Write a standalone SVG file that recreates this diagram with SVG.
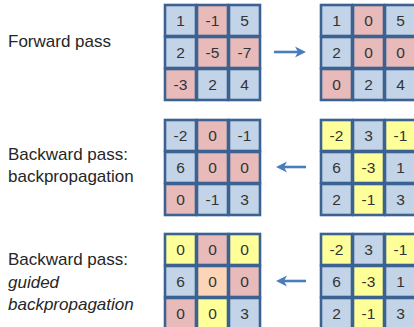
<svg xmlns="http://www.w3.org/2000/svg" width="414" height="327" viewBox="0 0 414 327">
<defs>
<style>
.lbl{font-family:"Liberation Sans",Arial,sans-serif;font-size:17px;fill:#262626}
.num{font-family:"Liberation Sans",Arial,sans-serif;font-size:15.5px;fill:#333;text-anchor:middle}
.c{stroke:#3b6291;stroke-width:2.6}
.b{fill:#c3d4e9}
.r{fill:#e8baba}
.y{fill:#ffff99}
.o{fill:#fcd5b8}
.arr{stroke:#4a7ebb;stroke-width:2.6;fill:none}
.ah{fill:#4a7ebb}
</style>
</defs>
<rect width="414" height="327" fill="#fff"/>
<g id="labels">
<text class="lbl" x="8" y="47">Forward pass</text>
<text class="lbl" x="8" y="160">Backward pass:</text>
<text class="lbl" x="8" y="182">backpropagation</text>
<text class="lbl" x="8" y="265">Backward pass:</text>
<text class="lbl" x="8" y="288" font-style="italic">guided</text>
<text class="lbl" x="8" y="310" font-style="italic">backpropagation</text>
</g>
<g id="g1" transform="translate(165,5)">
<rect class="c b" x="0" y="0" width="31" height="31"/><rect class="c r" x="32" y="0" width="31" height="31"/><rect class="c b" x="64" y="0" width="31" height="31"/>
<rect class="c b" x="0" y="32" width="31" height="31"/><rect class="c r" x="32" y="32" width="31" height="31"/><rect class="c r" x="64" y="32" width="31" height="31"/>
<rect class="c r" x="0" y="64" width="31" height="31"/><rect class="c b" x="32" y="64" width="31" height="31"/><rect class="c b" x="64" y="64" width="31" height="31"/>
<text class="num" x="15.5" y="21">1</text><text class="num" x="47.5" y="21">-1</text><text class="num" x="79.5" y="21">5</text>
<text class="num" x="15.5" y="53">2</text><text class="num" x="47.5" y="53">-5</text><text class="num" x="79.5" y="53">-7</text>
<text class="num" x="15.5" y="85">-3</text><text class="num" x="47.5" y="85">2</text><text class="num" x="79.5" y="85">4</text>
</g>
<g id="g2" transform="translate(321,5)">
<rect class="c b" x="0" y="0" width="31" height="31"/><rect class="c r" x="32" y="0" width="31" height="31"/><rect class="c b" x="64" y="0" width="31" height="31"/>
<rect class="c b" x="0" y="32" width="31" height="31"/><rect class="c r" x="32" y="32" width="31" height="31"/><rect class="c r" x="64" y="32" width="31" height="31"/>
<rect class="c r" x="0" y="64" width="31" height="31"/><rect class="c b" x="32" y="64" width="31" height="31"/><rect class="c b" x="64" y="64" width="31" height="31"/>
<text class="num" x="15.5" y="21">1</text><text class="num" x="47.5" y="21">0</text><text class="num" x="79.5" y="21">5</text>
<text class="num" x="15.5" y="53">2</text><text class="num" x="47.5" y="53">0</text><text class="num" x="79.5" y="53">0</text>
<text class="num" x="15.5" y="85">0</text><text class="num" x="47.5" y="85">2</text><text class="num" x="79.5" y="85">4</text>
</g>
<g id="g3" transform="translate(165,120)">
<rect class="c b" x="0" y="0" width="31" height="31"/><rect class="c r" x="32" y="0" width="31" height="31"/><rect class="c b" x="64" y="0" width="31" height="31"/>
<rect class="c b" x="0" y="32" width="31" height="31"/><rect class="c r" x="32" y="32" width="31" height="31"/><rect class="c r" x="64" y="32" width="31" height="31"/>
<rect class="c r" x="0" y="64" width="31" height="31"/><rect class="c b" x="32" y="64" width="31" height="31"/><rect class="c b" x="64" y="64" width="31" height="31"/>
<text class="num" x="15.5" y="21">-2</text><text class="num" x="47.5" y="21">0</text><text class="num" x="79.5" y="21">-1</text>
<text class="num" x="15.5" y="53">6</text><text class="num" x="47.5" y="53">0</text><text class="num" x="79.5" y="53">0</text>
<text class="num" x="15.5" y="85">0</text><text class="num" x="47.5" y="85">-1</text><text class="num" x="79.5" y="85">3</text>
</g>
<g id="g4" transform="translate(321,120)">
<rect class="c y" x="0" y="0" width="31" height="31"/><rect class="c b" x="32" y="0" width="31" height="31"/><rect class="c y" x="64" y="0" width="31" height="31"/>
<rect class="c b" x="0" y="32" width="31" height="31"/><rect class="c y" x="32" y="32" width="31" height="31"/><rect class="c b" x="64" y="32" width="31" height="31"/>
<rect class="c b" x="0" y="64" width="31" height="31"/><rect class="c y" x="32" y="64" width="31" height="31"/><rect class="c b" x="64" y="64" width="31" height="31"/>
<text class="num" x="15.5" y="21">-2</text><text class="num" x="47.5" y="21">3</text><text class="num" x="79.5" y="21">-1</text>
<text class="num" x="15.5" y="53">6</text><text class="num" x="47.5" y="53">-3</text><text class="num" x="79.5" y="53">1</text>
<text class="num" x="15.5" y="85">2</text><text class="num" x="47.5" y="85">-1</text><text class="num" x="79.5" y="85">3</text>
</g>
<g id="g5" transform="translate(165,234)">
<rect class="c y" x="0" y="0" width="31" height="31"/><rect class="c r" x="32" y="0" width="31" height="31"/><rect class="c y" x="64" y="0" width="31" height="31"/>
<rect class="c b" x="0" y="32" width="31" height="31"/><rect class="c o" x="32" y="32" width="31" height="31"/><rect class="c r" x="64" y="32" width="31" height="31"/>
<rect class="c r" x="0" y="64" width="31" height="31"/><rect class="c y" x="32" y="64" width="31" height="31"/><rect class="c b" x="64" y="64" width="31" height="31"/>
<text class="num" x="15.5" y="21">0</text><text class="num" x="47.5" y="21">0</text><text class="num" x="79.5" y="21">0</text>
<text class="num" x="15.5" y="53">6</text><text class="num" x="47.5" y="53">0</text><text class="num" x="79.5" y="53">0</text>
<text class="num" x="15.5" y="85">0</text><text class="num" x="47.5" y="85">0</text><text class="num" x="79.5" y="85">3</text>
</g>
<g id="g6" transform="translate(321,234)">
<rect class="c y" x="0" y="0" width="31" height="31"/><rect class="c b" x="32" y="0" width="31" height="31"/><rect class="c y" x="64" y="0" width="31" height="31"/>
<rect class="c b" x="0" y="32" width="31" height="31"/><rect class="c y" x="32" y="32" width="31" height="31"/><rect class="c b" x="64" y="32" width="31" height="31"/>
<rect class="c b" x="0" y="64" width="31" height="31"/><rect class="c y" x="32" y="64" width="31" height="31"/><rect class="c b" x="64" y="64" width="31" height="31"/>
<text class="num" x="15.5" y="21">-2</text><text class="num" x="47.5" y="21">3</text><text class="num" x="79.5" y="21">-1</text>
<text class="num" x="15.5" y="53">6</text><text class="num" x="47.5" y="53">-3</text><text class="num" x="79.5" y="53">1</text>
<text class="num" x="15.5" y="85">2</text><text class="num" x="47.5" y="85">-1</text><text class="num" x="79.5" y="85">3</text>
</g>
<g id="connectors">
<line class="arr" x1="274" y1="52" x2="298" y2="52"/>
<path class="ah" d="M306,52 L295,46.5 L298,52 L295,57.5 Z"/>
<line class="arr" x1="306" y1="167" x2="284" y2="167"/>
<path class="ah" d="M276,167 L287,161.5 L284,167 L287,172.5 Z"/>
<line class="arr" x1="306" y1="281" x2="284" y2="281"/>
<path class="ah" d="M276,281 L287,275.5 L284,281 L287,286.5 Z"/>
</g>
</svg>
